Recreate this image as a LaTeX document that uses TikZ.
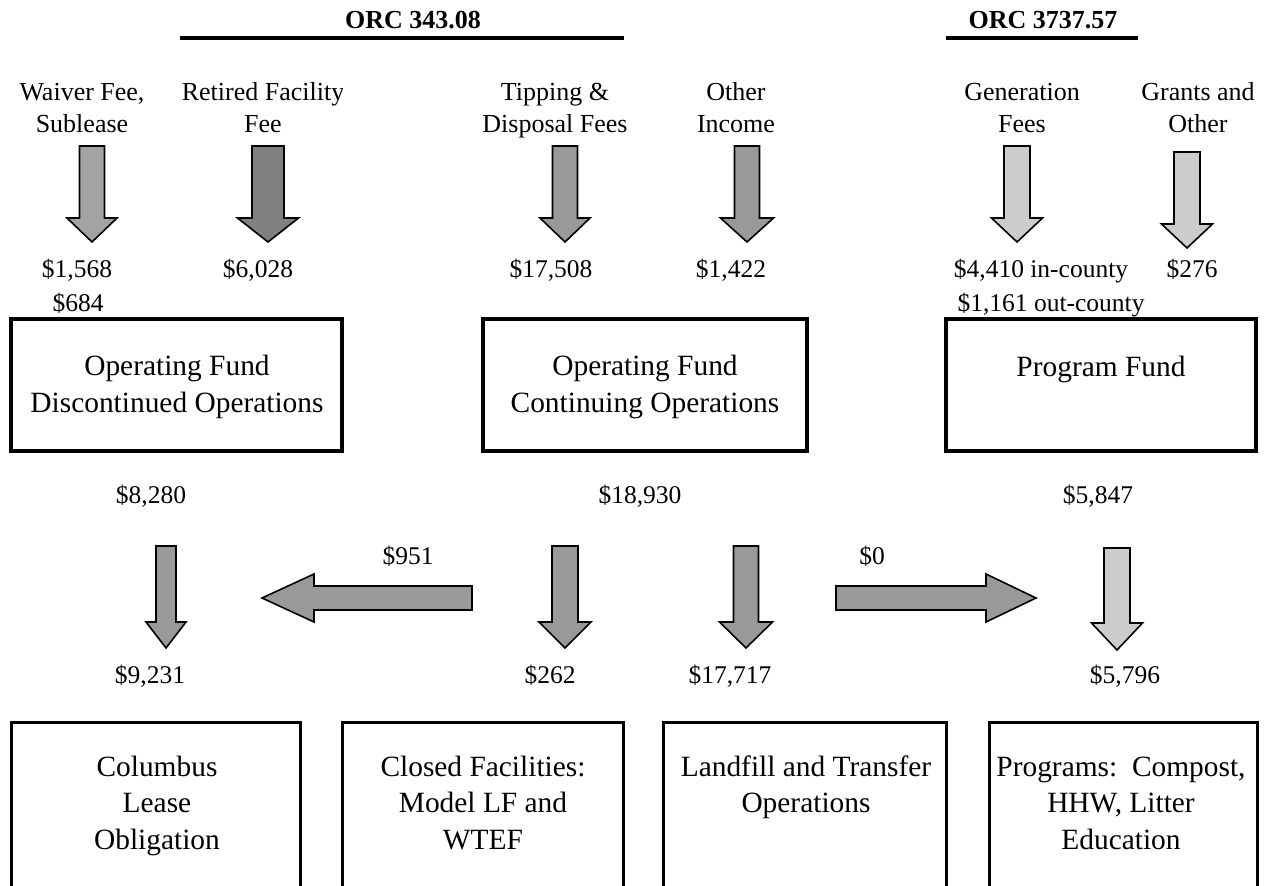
\documentclass[tikz,border=0pt]{standalone}
\usepackage{fontspec}
\setmainfont{Liberation Serif}
\definecolor{gLight}{HTML}{CCCCCC}
\definecolor{gMid}{HTML}{999999}
\definecolor{gWaiver}{HTML}{A3A3A3}
\definecolor{gDark}{HTML}{808080}
% #1 fill, #2 centre x, #3 top y, #4 shaft half width, #5 head base y, #6 head half width, #7 tip y
\newcommand{\blkdown}[7]{\draw[blk, fill=#1] ({#2-#4},#3) -- ({#2+#4},#3) -- ({#2+#4},#5) -- ({#2+#6},#5) -- (#2,#7) -- ({#2-#6},#5) -- ({#2-#4},#5) -- cycle;}
\begin{document}
\begin{tikzpicture}[x=1pt,y=-1pt,
  lbl/.style={inner sep=0pt, align=center, font=\fontsize{26}{32}\selectfont},
  val/.style={inner sep=0pt, align=center, font=\fontsize{25.5}{33}\selectfont},
  boxtxt/.style={inner sep=0pt, align=center, font=\fontsize{29.4}{36.5}\selectfont},
  ttl/.style={inner sep=0pt, font=\fontsize{26}{30}\selectfont\bfseries},
  fundbox/.style={draw, line width=4pt, inner sep=0pt},
  costbox/.style={draw, line width=3pt, inner sep=0pt},
  blk/.style={draw, line width=1.6pt, line join=miter},
  rulebar/.style={line width=3.5pt}]
\useasboundingbox (0,0) rectangle (1264,886);
\clip (0,0) rectangle (1264,886);
\fill[white] (0,0) rectangle (1264,886);

% titles
\node[ttl] (orcA) at (413,20) {ORC 343.08};
\coordinate (orcAl) at (180,38);
\coordinate (orcAr) at (624,38);
\draw[rulebar] (orcAl) -- (orcAr);
\node[ttl] (orcB) at (1043,20) {ORC 3737.57};
\coordinate (orcBl) at (946,38);
\coordinate (orcBr) at (1138,38);
\draw[rulebar] (orcBl) -- (orcBr);

% source labels
\node[lbl] (waiver) at (82,110) {\strut Waiver Fee,\\\strut Sublease};
\begin{scope}
\clip (150,60) rectangle (342,150);
\node[lbl] (retired) at (263,110) {\strut Retired Facility\\\strut Fee};
\end{scope}
\node[lbl] (tipping) at (555,110) {\strut Tipping \&\\\strut Disposal Fees};
\node[lbl] (otherinc) at (736,110) {\strut Other\\\strut Income};
\node[lbl] (generation) at (1022,110) {\strut Generation\\\strut Fees};
\node[lbl] (grants) at (1198,110) {\strut Grants and\\\strut Other};

% top arrows
\blkdown{gWaiver}{92}{146}{12.5}{218}{25}{242}
\blkdown{gDark}{268}{146}{16}{218}{30.5}{242}
\blkdown{gMid}{565}{146}{12.5}{218}{25}{242}
\blkdown{gMid}{747}{146}{12.5}{218}{26.5}{242}
\blkdown{gLight}{1017}{146}{13}{218}{25.5}{242}
\blkdown{gLight}{1187}{152}{13}{224}{25.5}{248}

% values row 1
\node[val] (v1568) at (77,271) {\strut\$1,568};
\node[val] (v684) at (78,305) {\strut\$684};
\node[val] (v6028) at (258,271) {\strut\$6,028};
\node[val] (v17508) at (551,271) {\strut\$17,508};
\node[val] (v1422) at (731,271) {\strut\$1,422};
\node[val] (v4410) at (1041,271) {\strut\$4,410 in-county};
\node[val] (v1161) at (1051,305) {\strut\$1,161 out-county};
\node[val] (v276) at (1192,271) {\strut\$276};

% fund boxes
\node[fundbox, minimum width=331pt, minimum height=132pt] (fundD) at (176.5,385) {};
\node[boxtxt] (fundDt) at (177,386.8) {\strut Operating Fund\\\strut Discontinued Operations};
\node[fundbox, minimum width=324pt, minimum height=132pt] (fundC) at (645,385) {};
\node[boxtxt] (fundCt) at (645,386.8) {\strut Operating Fund\\\strut Continuing Operations};
\node[fundbox, minimum width=310pt, minimum height=132pt] (fundP) at (1101,385) {};
\node[boxtxt] (fundPt) at (1101,369.3) {\strut Program Fund};

% values row 2
\node[val] (v8280) at (151,497) {\strut\$8,280};
\node[val] (v18930) at (640,497) {\strut\$18,930};
\node[val] (v5847) at (1098,497) {\strut\$5,847};
\node[val] (v951) at (408,558) {\strut\$951};
\node[val] (v0) at (872,558) {\strut\$0};

% middle arrows
\blkdown{gMid}{166}{546}{10}{622}{20}{648}
\blkdown{gMid}{565}{546}{13}{622}{26}{648}
\blkdown{gMid}{746}{546}{12.5}{622}{26.5}{648}
\blkdown{gLight}{1117}{548}{13}{623}{25.5}{650}
\draw[blk, fill=gMid] (472,586) -- (314,586) -- (314,574) -- (262,598) -- (314,622) -- (314,610) -- (472,610) -- cycle;
\draw[blk, fill=gMid] (836,586) -- (986,586) -- (986,574) -- (1036,598) -- (986,622) -- (986,610) -- (836,610) -- cycle;

% values row 3
\node[val] (v9231) at (150,677) {\strut\$9,231};
\node[val] (v262) at (550,677) {\strut\$262};
\node[val] (v17717) at (730,677) {\strut\$17,717};
\node[val] (v5796) at (1125,677) {\strut\$5,796};

% cost boxes (cut by the lower edge)
\node[costbox, minimum width=289pt, minimum height=228pt] (lease) at (155.5,836) {};
\node[boxtxt] (leaset) at (157,805.6) {\strut Columbus\\\strut Lease\\\strut Obligation};
\node[costbox, minimum width=281pt, minimum height=228pt] (closed) at (482.5,836) {};
\node[boxtxt] (closedt) at (483,805.6) {\strut Closed Facilities:\\\strut Model LF and\\\strut WTEF};
\node[costbox, minimum width=283pt, minimum height=228pt] (landfill) at (804.5,836) {};
\node[boxtxt] (landfillt) at (806,787.3) {\strut Landfill and Transfer\\\strut Operations};
\node[costbox, minimum width=268pt, minimum height=228pt] (programs) at (1123,836) {};
\node[boxtxt] (programst) at (1121,805.6) {\strut Programs:\ \ Compost,\\\strut HHW, Litter\\\strut Education};
\end{tikzpicture}
\end{document}
